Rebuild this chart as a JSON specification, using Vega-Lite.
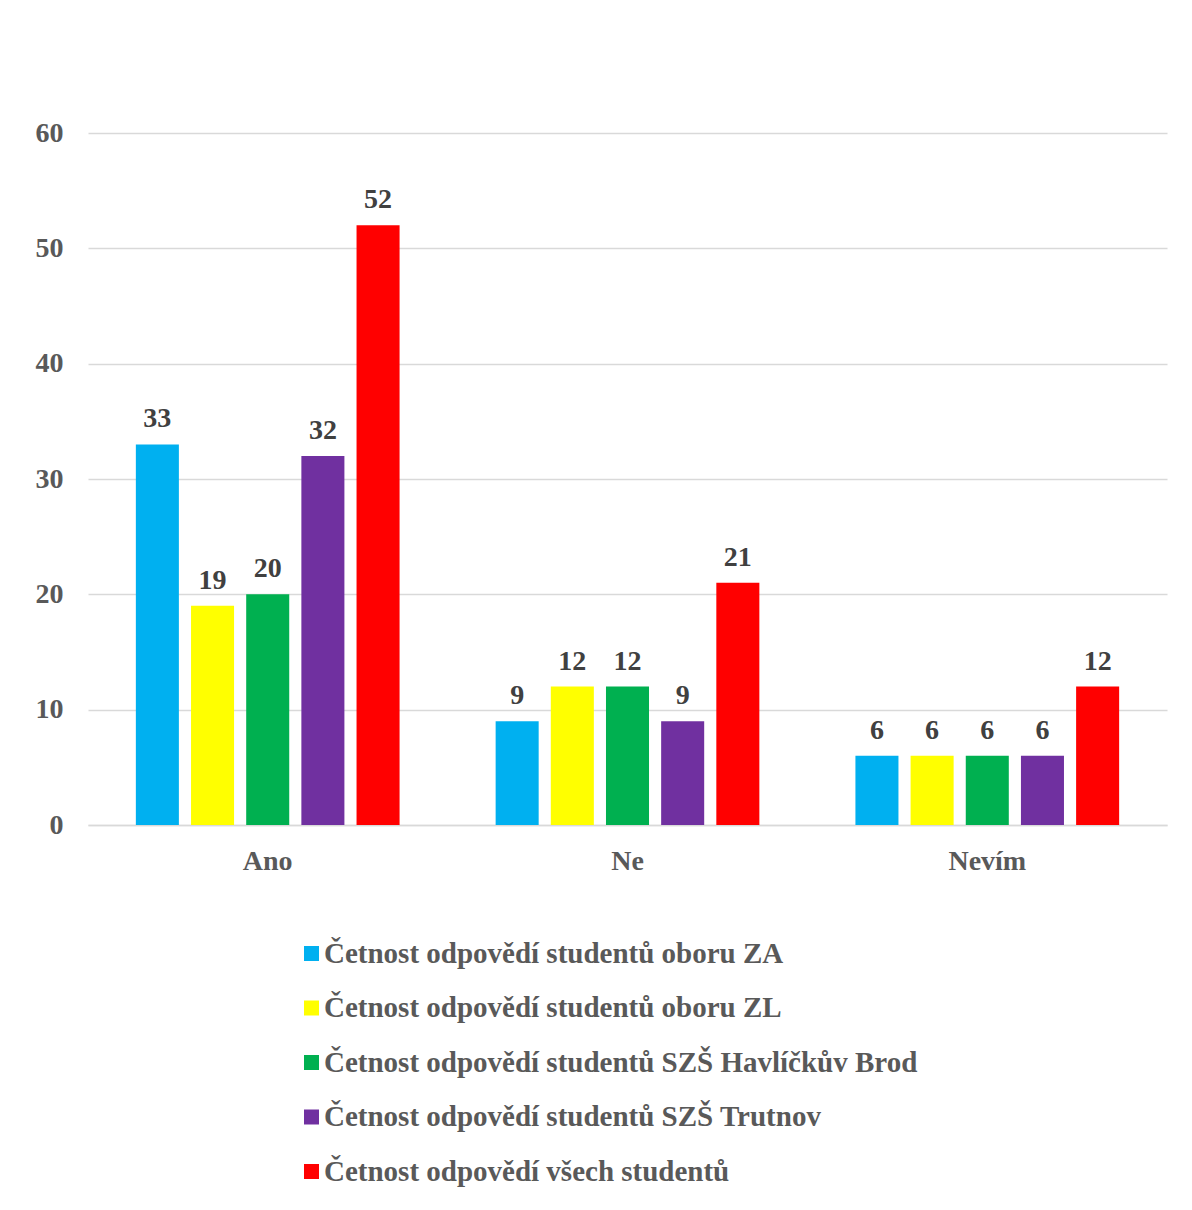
{
  "$schema": "https://vega.github.io/schema/vega-lite/v6.json",
  "width": 1079,
  "height": 692,
  "autosize": {"type": "none"},
  "padding": {"left": 88, "top": 133, "right": 25, "bottom": 385},
  "background": "white",
  "config": {
    "view": {"stroke": null},
    "font": "Liberation Serif"
  },
  "data": {
    "values": [
      {"odpoved": "Ano", "skupina": "Četnost odpovědí studentů oboru ZA", "pocet": 33},
      {"odpoved": "Ano", "skupina": "Četnost odpovědí studentů oboru ZL", "pocet": 19},
      {"odpoved": "Ano", "skupina": "Četnost odpovědí studentů SZŠ Havlíčkův Brod", "pocet": 20},
      {"odpoved": "Ano", "skupina": "Četnost odpovědí studentů SZŠ Trutnov", "pocet": 32},
      {"odpoved": "Ano", "skupina": "Četnost odpovědí všech studentů", "pocet": 52},
      {"odpoved": "Ne", "skupina": "Četnost odpovědí studentů oboru ZA", "pocet": 9},
      {"odpoved": "Ne", "skupina": "Četnost odpovědí studentů oboru ZL", "pocet": 12},
      {"odpoved": "Ne", "skupina": "Četnost odpovědí studentů SZŠ Havlíčkův Brod", "pocet": 12},
      {"odpoved": "Ne", "skupina": "Četnost odpovědí studentů SZŠ Trutnov", "pocet": 9},
      {"odpoved": "Ne", "skupina": "Četnost odpovědí všech studentů", "pocet": 21},
      {"odpoved": "Nevím", "skupina": "Četnost odpovědí studentů oboru ZA", "pocet": 6},
      {"odpoved": "Nevím", "skupina": "Četnost odpovědí studentů oboru ZL", "pocet": 6},
      {"odpoved": "Nevím", "skupina": "Četnost odpovědí studentů SZŠ Havlíčkův Brod", "pocet": 6},
      {"odpoved": "Nevím", "skupina": "Četnost odpovědí studentů SZŠ Trutnov", "pocet": 6},
      {"odpoved": "Nevím", "skupina": "Četnost odpovědí všech studentů", "pocet": 12}
    ]
  },
  "encoding": {
    "x": {
      "field": "odpoved",
      "type": "nominal",
      "sort": ["Ano", "Ne", "Nevím"],
      "scale": {"paddingInner": 0.267, "paddingOuter": 0.133},
      "axis": {
        "title": null,
        "labelAngle": 0,
        "labelFont": "Liberation Serif",
        "labelFontSize": 28,
        "labelFontWeight": "bold",
        "labelColor": "#595959",
        "labelPadding": 22,
        "ticks": false,
        "domainColor": "#d9d9d9",
        "domainWidth": 1.5
      }
    },
    "xOffset": {
      "field": "skupina",
      "type": "nominal",
      "sort": [
        "Četnost odpovědí studentů oboru ZA",
        "Četnost odpovědí studentů oboru ZL",
        "Četnost odpovědí studentů SZŠ Havlíčkův Brod",
        "Četnost odpovědí studentů SZŠ Trutnov",
        "Četnost odpovědí všech studentů"
      ],
      "scale": {"paddingInner": 0.22, "paddingOuter": 0}
    },
    "y": {
      "field": "pocet",
      "type": "quantitative",
      "scale": {"domain": [0, 60]},
      "axis": {
        "title": null,
        "values": [0, 10, 20, 30, 40, 50, 60],
        "labelFont": "Liberation Serif",
        "labelFontSize": 28,
        "labelFontWeight": "bold",
        "labelColor": "#595959",
        "labelPadding": 25,
        "ticks": false,
        "domain": false,
        "gridColor": "#d9d9d9",
        "gridWidth": 1.5
      }
    }
  },
  "layer": [
    {
      "mark": {"type": "bar"},
      "encoding": {
        "color": {
          "field": "skupina",
          "type": "nominal",
          "sort": [
            "Četnost odpovědí studentů oboru ZA",
            "Četnost odpovědí studentů oboru ZL",
            "Četnost odpovědí studentů SZŠ Havlíčkův Brod",
            "Četnost odpovědí studentů SZŠ Trutnov",
            "Četnost odpovědí všech studentů"
          ],
          "scale": {
            "domain": [
              "Četnost odpovědí studentů oboru ZA",
              "Četnost odpovědí studentů oboru ZL",
              "Četnost odpovědí studentů SZŠ Havlíčkův Brod",
              "Četnost odpovědí studentů SZŠ Trutnov",
              "Četnost odpovědí všech studentů"
            ],
            "range": ["#00B0F0", "#FFFF00", "#00B050", "#7030A0", "#FF0000"]
          },
          "legend": {
            "title": null,
            "orient": "none",
            "direction": "vertical",
            "legendX": 209,
            "legendY": 806,
            "symbolType": "square",
            "symbolSize": 225,
            "symbolStrokeWidth": 0,
            "labelFont": "Liberation Serif",
            "labelFontSize": 29,
            "labelFontWeight": "bold",
            "labelColor": "#595959",
            "labelOffset": -2,
            "labelLimit": 1000,
            "rowPadding": 24.5
          }
        }
      }
    },
    {
      "mark": {
        "type": "text",
        "baseline": "alphabetic",
        "dy": -17,
        "font": "Liberation Serif",
        "fontSize": 28,
        "fontWeight": "bold",
        "color": "#404040"
      },
      "encoding": {
        "text": {"field": "pocet", "type": "quantitative"}
      }
    }
  ]
}
